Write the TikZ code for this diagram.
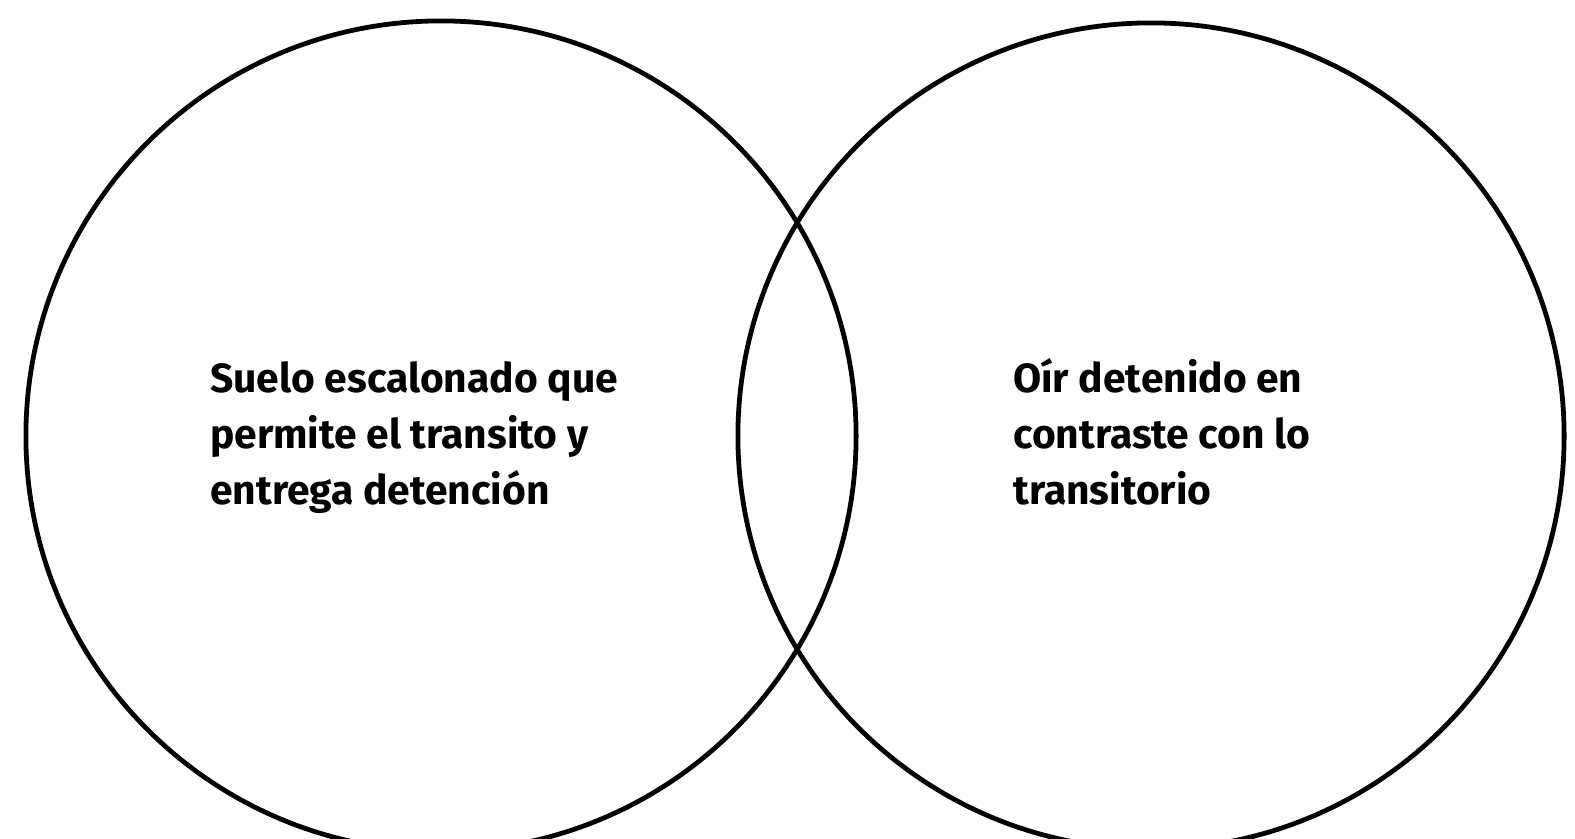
\documentclass[tikz,border=0pt]{standalone}
\usepackage{fontspec}
\setmainfont{Fira Sans}
\begin{document}
\begin{tikzpicture}[x=0.025cm,y=-0.025cm,
  circulo/.style={draw, line width=3.4pt, circle, minimum size=20.75cm, inner sep=0pt},
  texto/.style={anchor=base west, align=left, inner sep=0pt, font=\fontsize{29}{39.5}\selectfont\bfseries}]
\useasboundingbox (0,0) rectangle (1575,838);
% Diagrama de Venn de dos conjuntos
\node[circulo] (izq) at (441,436) {};
\node[circulo, minimum size=20.65cm] (der) at (1151,436) {};
\node[texto] (tizq) at (210,504) {Suelo escalonado que\\permite el transito y\\entrega detención};
\node[texto] (tder) at (1013,504) {Oír detenido en\\contraste con lo\\transitorio};
\end{tikzpicture}
\end{document}
